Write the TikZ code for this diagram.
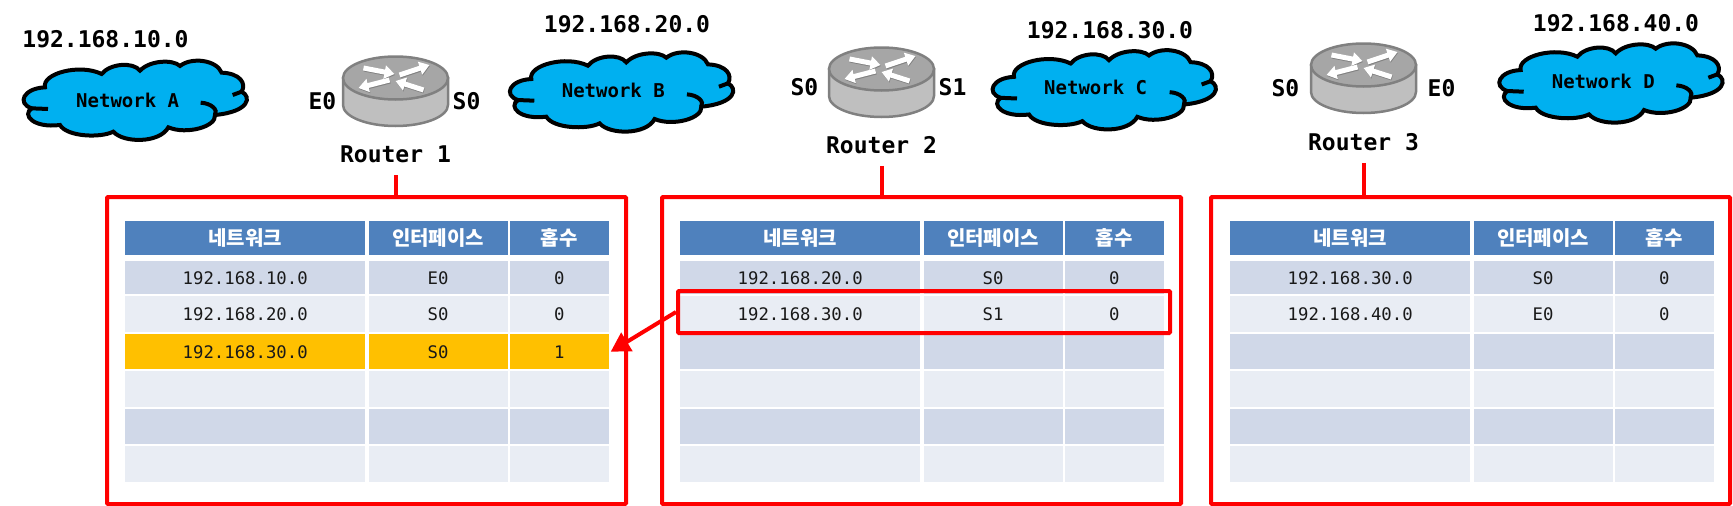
\documentclass[tikz,border=0pt]{standalone}
\usepackage{fontspec}
\setmainfont{DejaVu Sans Mono}
\newfontfamily\krfont{Noto Sans CJK KR}
\usetikzlibrary{arrows.meta, positioning}
\definecolor{hdrblue}{HTML}{4F81BD}
\definecolor{rowdark}{HTML}{D0D8E8}
\definecolor{rowlight}{HTML}{E9EDF4}
\definecolor{rowhit}{HTML}{FFC000}
\definecolor{cloudblue}{HTML}{00B0F0}
\tikzset{
  cell/.style    = {inner sep=0pt, font=\fontsize{17.3}{20}\selectfont, text=black!90},
  hdr/.style     = {cell, fill=hdrblue, text=white, font=\fontsize{20}{24}\selectfont\krfont\bfseries},
  dark/.style    = {cell, fill=rowdark},
  light/.style   = {cell, fill=rowlight},
  hit/.style     = {cell, fill=rowhit},
  iplab/.style   = {font=\fontsize{23}{26}\selectfont\bfseries, inner sep=0pt},
  nwlab/.style   = {font=\fontsize{19}{22}\selectfont\bfseries, inner sep=0pt},
  redbox/.style  = {draw=red, line width=4pt, rounded corners=1pt, inner sep=0pt},
  redln/.style   = {draw=red, line width=4pt},
  redarr/.style  = {-{Triangle[length=19pt, width=21pt]}, draw=red, fill=red, line width=4pt},
  rarr/.style    = {-{Triangle[length=10pt, width=13pt]}, line width=5pt},
  netcloud/.pic  = {
    \draw[x=.3333pt, y=-.3333pt, draw=black, fill=cloudblue, line width=4pt]
      (105,112) .. controls (95,70) and (210,40) .. (275,72)
      .. controls (300,40) and (370,35) .. (390,62)
      .. controls (420,30) and (490,28) .. (510,48)
      .. controls (545,20) and (620,30) .. (635,68)
      .. controls (690,70) and (710,100) .. (695,125)
      .. controls (725,140) and (720,185) .. (615,195)
      .. controls (620,230) and (530,255) .. (475,232)
      .. controls (450,280) and (340,280) .. (310,245)
      .. controls (270,265) and (170,260) .. (150,225)
      .. controls (70,235) and (35,195) .. (65,175)
      .. controls (20,160) and (40,115) .. (105,112) -- cycle;
    \draw[x=.3333pt, y=-.3333pt, line width=4pt]
      (695,125) -- (668,135)
      (572,158) .. controls (605,160) and (625,180) .. (615,195)
      (65,175) -- (114,177);
  },
  router/.pic    = {
    \draw[draw=black!50, fill=black!25, line width=2.5pt]
      (-52.5,0) -- (-52.5,27) .. controls (-52.5,38.6) and (-29,48) .. (0,48)
      .. controls (29,48) and (52.5,38.6) .. (52.5,27) -- (52.5,0) -- cycle;
    \draw[draw=black!50, fill=black!35, line width=2.5pt] (0,0) ellipse [x radius=52.5pt, y radius=21.5pt];
    \foreach \ax/\ay/\bx/\by in {-32/-10/-1/-4, 4/-3/34/-13, -6/2/-37/10, 28/12/0/3} {
      \draw[rarr, draw=black!50, fill=black!50] (\ax+.5,\ay+1) -- (\bx+.5,\by+1);
      \draw[rarr, draw=white, fill=white] (\ax,\ay) -- (\bx,\by);
    }
  },
}
% one row of a table: name, top, height, style, three cells
\newcommand{\tblrow}[7]{
  \node[#4, anchor=north west, minimum width=240pt, minimum height=#3pt] (#1a) at (0,#2) {#5};
  \node[#4, minimum width=139pt, minimum height=#3pt, right=3pt of #1a] (#1b) {#6};
  \node[#4, minimum width=98.5pt, minimum height=#3pt, right=2pt of #1b] (#1c) {#7};
}
\newcommand{\tblhead}[1]{\tblrow{#1h}{221}{34}{hdr}{네트워크}{인터페이스}{홉수}}
\begin{document}
\begin{tikzpicture}[x=1pt, y=-1pt]
\useasboundingbox (0,0) rectangle (1733,506);
% clouds
\pic at (10,50) {netcloud};
\pic at (496.3,41.7) {netcloud};
\pic at (979,39.5) {netcloud};
\pic at (1485.7,32.7) {netcloud};
\node[nwlab] (nwa) at (127.7,100) {Network A};
\node[nwlab] (nwb) at (613.3,90.7) {Network B};
\node[nwlab] (nwc) at (1095.7,87.7) {Network C};
\node[nwlab] (nwd) at (1603.3,81.7) {Network D};
\node[iplab] (ipa) at (105.5,39.5) {192.168.10.0};
\node[iplab] (ipb) at (627,24) {192.168.20.0};
\node[iplab] (ipc) at (1110,30) {192.168.30.0};
\node[iplab] (ipd) at (1616,23) {192.168.40.0};
% routers
\coordinate (r1) at (395.5,78);
\coordinate (r2) at (881.5,69);
\coordinate (r3) at (1363.5,65);
\pic at (r1) {router};
\pic at (r2) {router};
\pic at (r3) {router};
\node[iplab, left=59pt of r1, yshift=-23pt] (r1e) {E0};
\node[iplab, right=57pt of r1, yshift=-23pt] (r1s) {S0};
\node[iplab, left=63pt of r2, yshift=-18pt] (r2s) {S0};
\node[iplab, right=57pt of r2, yshift=-18pt] (r2t) {S1};
\node[iplab, left=64pt of r3, yshift=-23pt] (r3s) {S0};
\node[iplab, right=64pt of r3, yshift=-23pt] (r3e) {E0};
\node[iplab, below=68pt of r1] (lab1) {Router 1};
\node[iplab, below=67pt of r2] (lab2) {Router 2};
\node[iplab, below=68pt of r3] (lab3) {Router 3};
% tables
\begin{scope}[xshift=125pt]
\tblhead{a}
\tblrow{a1}{261}{33}{dark}{192.168.10.0}{E0}{0}
\tblrow{a2}{296}{36}{light}{192.168.20.0}{S0}{0}
\tblrow{a3}{334}{35}{hit}{192.168.30.0}{S0}{1}
\tblrow{a4}{371}{36}{light}{}{}{}
\tblrow{a5}{409}{35}{dark}{}{}{}
\tblrow{a6}{446}{36}{light}{}{}{}
\end{scope}
\begin{scope}[xshift=680pt]
\tblhead{b}
\tblrow{b1}{261}{33}{dark}{192.168.20.0}{S0}{0}
\tblrow{b2}{296}{36}{light}{192.168.30.0}{S1}{0}
\tblrow{b3}{334}{35}{dark}{}{}{}
\tblrow{b4}{371}{36}{light}{}{}{}
\tblrow{b5}{409}{35}{dark}{}{}{}
\tblrow{b6}{446}{36}{light}{}{}{}
\end{scope}
\begin{scope}[xshift=1230pt]
\tblhead{c}
\tblrow{c1}{261}{33}{dark}{192.168.30.0}{S0}{0}
\tblrow{c2}{296}{36}{light}{192.168.40.0}{E0}{0}
\tblrow{c3}{334}{35}{dark}{}{}{}
\tblrow{c4}{371}{36}{light}{}{}{}
\tblrow{c5}{409}{35}{dark}{}{}{}
\tblrow{c6}{446}{36}{light}{}{}{}
\end{scope}
% red frames
\node[redbox, minimum width=519pt, minimum height=307pt] (box1) at (366.5,350.5) {};
\node[redbox, minimum width=519pt, minimum height=307pt] (box2) at (921.5,350.5) {};
\node[redbox, minimum width=519pt, minimum height=307pt] (box3) at (1470.5,350.5) {};
\node[redbox, minimum width=492pt, minimum height=42pt] (hl) at (924,312) {};
\draw[redln] ([yshift=-12pt]lab1.south) -- (lab1 |- box1.north);
\draw[redln] ([yshift=-12pt]lab2.south) -- (lab2 |- box2.north);
\draw[redln] ([yshift=-12pt]lab3.south) -- (lab3 |- box3.north);
\draw[redarr] (hl.west) -- ([xshift=2pt]a3c.east);
\end{tikzpicture}
\end{document}
